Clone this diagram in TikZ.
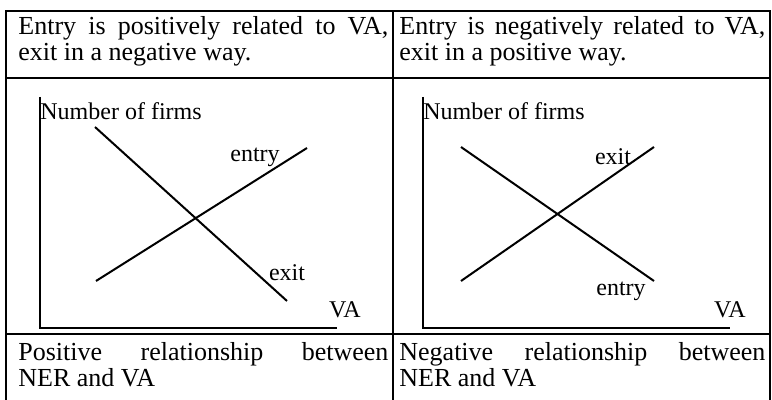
\documentclass[tikz,border=0pt]{standalone}
\usepackage{fontspec}
\setmainfont{Liberation Serif}

\newcommand*{\colw}{185pt}

\begin{document}
\begin{tikzpicture}
[
	x=0.5pt,y=-0.5pt,
	rule/.style={line width=1.3pt},
	axis/.style={line width=0.8pt},
	curve/.style={line width=1pt},
	txt/.style={inner sep=0pt,anchor=base west,font=\fontsize{13}{15}\selectfont},
	lbl/.style={inner sep=0pt,font=\fontsize{12}{14}\selectfont}
]
	\useasboundingbox (0,0) rectangle (772,400);

	% table frame (bottom edge is cut off)
	\draw[rule] (6,400) -- (6,11) -- (770,11) -- (770,400);
	\draw[rule] (393,11) -- (393,400);
	\draw[rule] (6,78) -- (770,78);
	\draw[rule] (6,334) -- (770,334);

	% header row
	\node[txt] (hla) at (18,35) {\makebox[\colw][s]{Entry is positively related to VA,}};
	\node[txt] (hlb) at (18,61) {exit in a negative way.};
	\node[txt] (hra) at (399,35) {\makebox[183pt][s]{Entry is negatively related to VA,}};
	\node[txt] (hrb) at (399,61) {exit in a positive way.};

	% left graph
	\coordinate (ol) at (40,328);
	\coordinate (yl) at (40,97);
	\coordinate (xl) at (337,328);
	\draw[axis] (yl) -- (ol) -- (xl);
	\coordinate (exl0) at (95,127);
	\coordinate (exl1) at (287,301);
	\coordinate (enl0) at (96,281);
	\coordinate (enl1) at (307,148);
	\draw[curve] (exl0) -- (exl1);
	\draw[curve] (enl0) -- (enl1);
	\node[lbl,anchor=west] (nfl) at (40,111) {Number of firms};
	\node[lbl] (enl) at (255,157) {entry};
	\node[lbl] (exl) at (287,273) {exit};
	\node[lbl] (val) at (345,310) {VA};

	% right graph
	\coordinate (or) at (423,328);
	\coordinate (yr) at (423,97);
	\coordinate (xr) at (730,328);
	\draw[axis] (yr) -- (or) -- (xr);
	\coordinate (enr0) at (461,147);
	\coordinate (enr1) at (654,281);
	\coordinate (exr0) at (461,281);
	\coordinate (exr1) at (654,147);
	\draw[curve] (enr0) -- (enr1);
	\draw[curve] (exr0) -- (exr1);
	\node[lbl,anchor=west] (nfr) at (423,111) {Number of firms};
	\node[lbl] (exr) at (613,157) {exit};
	\node[lbl] (enr) at (621,291) {entry};
	\node[lbl] (var) at (730,310) {VA};

	% footer row
	\node[txt] (fla) at (18,361) {\makebox[\colw][s]{Positive relationship between}};
	\node[txt] (flb) at (18,387) {NER and VA};
	\node[txt] (fra) at (399,361) {\makebox[183pt][s]{Negative relationship between}};
	\node[txt] (frb) at (399,387) {NER and VA};

\end{tikzpicture}
\end{document}
